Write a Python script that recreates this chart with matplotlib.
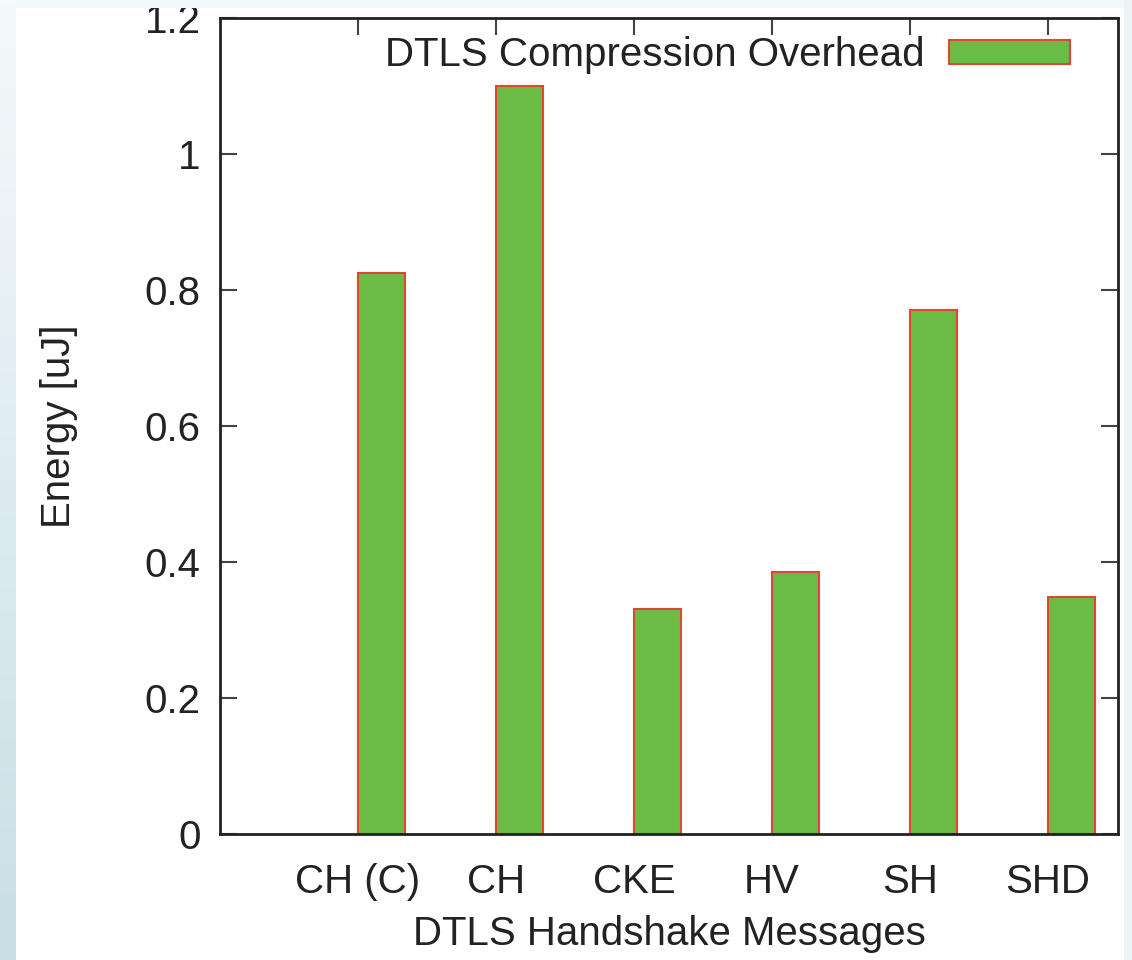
import numpy as np
import matplotlib
matplotlib.use("Agg")
import matplotlib.pyplot as plt
from matplotlib.patches import Rectangle

categories = ["CH (C)", "CH", "CKE", "HV", "SH", "SHD"]
overhead = [0.825, 1.10, 0.331, 0.385, 0.770, 0.349]
yticks = [0, 0.2, 0.4, 0.6, 0.8, 1.0, 1.2]
ytick_labels = ["0", "0.2", "0.4", "0.6", "0.8", "1", "1.2"]

plt.rcParams['font.family'] = ['Liberation Sans', 'DejaVu Sans']

W, H, DPI = 1132, 960, 100
FS = 29
fig = plt.figure(figsize=(W / DPI, H / DPI), dpi=DPI)

# background
bg = fig.add_axes([0, 0, 1, 1], zorder=-10)
bg.set_axis_off()
grad = np.linspace(0, 1, 256).reshape(-1, 1)
c0 = np.array([0xf4, 0xf9, 0xfb]) / 255
c1 = np.array([0xc8, 0xdf, 0xe6]) / 255
img = c0[None, None, :] * (1 - grad[..., None]) + c1[None, None, :] * grad[..., None]
bg.imshow(img, extent=[0, 1, 0, 1], aspect='auto', origin='upper')
bg.add_patch(Rectangle((16 / W, 0), (1124 - 16) / W, 1, facecolor='white', edgecolor='none'))
bg.add_patch(Rectangle((1124 / W, 0), 8 / W, 1, facecolor='#eaf3f6', edgecolor='none'))
bg.set_xlim(0, 1)
bg.set_ylim(0, 1)
fig.add_artist(Rectangle((16 / W, 1 - 8 / H), (1124 - 16) / W, 8 / H, facecolor='#f2f8fa',
                         edgecolor='none', transform=fig.transFigure, zorder=100))

left, right, top, bottom = 220, 1118, 18, 834
ax = fig.add_axes([left / W, 1 - bottom / H, (right - left) / W, (bottom - top) / H])
ax.set_facecolor('none')

x = np.arange(len(categories))
bw = 0.34
ax.bar(x, overhead, width=bw, align='edge', color='#69bd45', edgecolor='#e0453a',
       linewidth=1.5, label='DTLS Compression Overhead', zorder=2)

ax.set_xlim(-1.0, 5.507)
ax.set_ylim(0, 1.2)
ax.set_xticks(x)
ax.set_xticklabels(categories)
ax.set_yticks(yticks)
ax.set_yticklabels(ytick_labels)
ax.tick_params(axis='both', direction='in', length=12, width=1.5, color='#444444',
               labelsize=FS, labelcolor='#222222', top=True, right=True, pad=14)
ax.tick_params(axis='x', pad=21)
for s in ax.spines.values():
    s.set_linewidth(2)
    s.set_color('#222222')
    s.set_zorder(5)

ax.set_ylabel('Energy [uJ]', fontsize=FS, color='#222222', labelpad=48)
ax.set_xlabel('DTLS Handshake Messages', fontsize=FS, color='#222222', labelpad=10)

leg = ax.legend(loc='upper right', bbox_to_anchor=(0.978, 1.012), frameon=False,
                fontsize=FS, markerfirst=False, handlelength=3.0, handleheight=0.52,
                handletextpad=0.6, borderaxespad=0.3)
for t in leg.get_texts():
    t.set_color('#222222')

fig.savefig('out.png', dpi=DPI)
